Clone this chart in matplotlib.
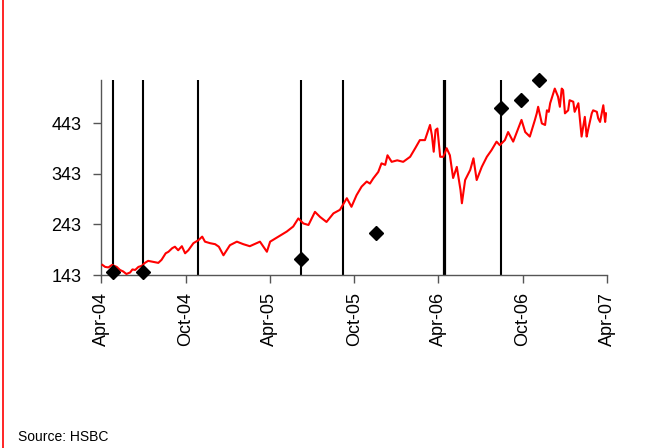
import matplotlib
matplotlib.use("Agg")
import matplotlib.pyplot as plt
from matplotlib.lines import Line2D
import pandas as pd

plt.rcParams['font.family'] = ['Liberation Sans', 'DejaVu Sans']

# ---- data ----
line_dates = [
    "2004-04-04", "2004-04-10", "2004-04-17", "2004-04-25", "2004-05-05", "2004-05-12",
    "2004-05-19", "2004-05-26", "2004-06-03", "2004-06-08", "2004-06-14", "2004-06-21",
    "2004-06-28", "2004-07-05", "2004-07-12", "2004-07-23", "2004-08-03", "2004-08-10",
    "2004-08-19", "2004-08-25", "2004-09-02", "2004-09-08", "2004-09-15", "2004-09-23",
    "2004-09-30", "2004-10-07", "2004-10-18", "2004-10-29", "2004-11-06", "2004-11-12",
    "2004-11-23", "2004-12-04", "2004-12-12", "2004-12-22", "2005-01-05", "2005-01-20",
    "2005-02-03", "2005-02-17", "2005-03-11", "2005-03-26", "2005-04-02", "2005-04-20",
    "2005-05-08", "2005-05-22", "2005-06-02", "2005-06-13", "2005-06-24", "2005-07-08",
    "2005-07-19", "2005-08-02", "2005-08-17", "2005-08-31", "2005-09-15", "2005-09-25",
    "2005-10-06", "2005-10-17", "2005-10-28", "2005-11-04", "2005-11-11", "2005-11-22",
    "2005-11-29", "2005-12-07", "2005-12-12", "2005-12-21", "2006-01-02", "2006-01-15",
    "2006-01-30", "2006-02-10", "2006-02-20", "2006-03-03", "2006-03-14", "2006-03-18",
    "2006-03-22", "2006-03-26", "2006-03-30", "2006-04-05", "2006-04-12", "2006-04-19",
    "2006-04-26", "2006-05-03", "2006-05-11", "2006-05-19", "2006-05-22", "2006-05-29",
    "2006-06-09", "2006-06-16", "2006-06-23", "2006-07-04", "2006-07-15", "2006-07-25",
    "2006-08-05", "2006-08-12", "2006-08-23", "2006-08-30", "2006-09-10", "2006-09-21",
    "2006-09-28", "2006-10-06", "2006-10-16", "2006-10-27", "2006-10-31", "2006-11-03",
    "2006-11-11", "2006-11-18", "2006-11-22", "2006-11-26", "2006-11-29", "2006-12-09",
    "2006-12-16", "2006-12-20", "2006-12-24", "2006-12-27", "2006-12-31", "2007-01-07",
    "2007-01-10", "2007-01-18", "2007-01-21", "2007-01-29", "2007-02-05", "2007-02-12",
    "2007-02-16", "2007-02-19", "2007-02-27", "2007-03-02", "2007-03-10", "2007-03-13",
    "2007-03-17", "2007-03-24", "2007-03-28", "2007-03-30",
]
line_values = [
    163, 159, 158, 163, 159, 153,
    150, 145, 148, 154, 153, 159,
    161, 167, 171, 169, 167, 173,
    186, 189, 196, 199, 192, 200,
    186, 192, 206, 212, 219, 209,
    206, 204, 199, 182, 202, 209,
    204, 200, 209, 189, 209, 219,
    229, 239, 255, 245, 242, 268,
    258, 248, 265, 272, 295, 278,
    301, 318, 328, 324, 334, 347,
    364, 361, 380, 367, 370, 367,
    377, 394, 410, 410, 440, 420,
    387, 430, 433, 377, 377, 394,
    380, 335, 357, 311, 285, 331,
    351, 374, 331, 357, 377, 390,
    407, 400, 410, 426, 407, 433,
    450, 426, 417, 450, 463, 476,
    443, 440, 469, 466, 483, 512,
    496, 476, 512, 509, 463, 469,
    489, 486, 466, 483, 417, 456,
    417, 430, 463, 469, 466, 453,
    446, 479, 446, 463,
]

event_dates = ["2004-04-27", "2004-07-01", "2004-10-27", "2005-06-07",
               "2005-09-06", "2006-04-13", "2006-08-14"]
event_widths = [1.5, 1.5, 1.5, 1.5, 1.5, 2.3, 1.5]

diamond_dates = ["2004-04-27", "2004-07-01", "2005-06-07", "2005-11-17",
                 "2006-08-14", "2006-09-26", "2006-11-05"]
diamond_values = [148, 148, 174, 227, 473, 489, 529]

y_ticks = [143, 243, 343, 443]
x_ticks = ["2004-04-01", "2004-10-01", "2005-04-01", "2005-10-01",
           "2006-04-01", "2006-10-01", "2007-04-01"]
x_labels = ["Apr-04", "Oct-04", "Apr-05", "Oct-05", "Apr-06", "Oct-06", "Apr-07"]

# ---- figure ----
fig = plt.figure(figsize=(6.7, 4.48), dpi=100)
ax = fig.add_axes([101 / 670, 1 - 275 / 448, (607 - 101) / 670, (275 - 80) / 448])

ax.plot(pd.to_datetime(line_dates), line_values, color="#ff0000", lw=1.5, zorder=3)

for d, w in zip(event_dates, event_widths):
    ax.axvline(pd.Timestamp(d), color="black", lw=w, zorder=2)

ax.plot(pd.to_datetime(diamond_dates), diamond_values, linestyle="none", marker="D",
        markersize=7.5, color="black", zorder=4, clip_on=False)

ax.set_xlim(pd.Timestamp("2004-04-01"), pd.Timestamp("2007-04-01"))
ax.set_ylim(143, 529)
ax.set_yticks(y_ticks)
ax.set_yticklabels([str(v) for v in y_ticks])
ax.set_xticks(pd.to_datetime(x_ticks))
ax.set_xticklabels(x_labels, rotation=90)

for s in ["top", "right"]:
    ax.spines[s].set_visible(False)
for s in ["left", "bottom"]:
    ax.spines[s].set_color("#555555")
    ax.spines[s].set_linewidth(1.0)
ax.tick_params(axis="both", direction="out", length=6, width=1.0, color="#555555",
               labelsize=13, labelcolor="black")
ax.tick_params(axis="y", pad=8)
ax.tick_params(axis="x", pad=6)

fig.add_artist(Line2D([2.5 / 670, 2.5 / 670], [0, 1], color="#ff0000", lw=1.2,
                      transform=fig.transFigure))
fig.text(18 / 670, 1 - 441 / 448, "Source: HSBC", fontsize=10, va="baseline", ha="left")

fig.savefig("out.png", dpi=100)
